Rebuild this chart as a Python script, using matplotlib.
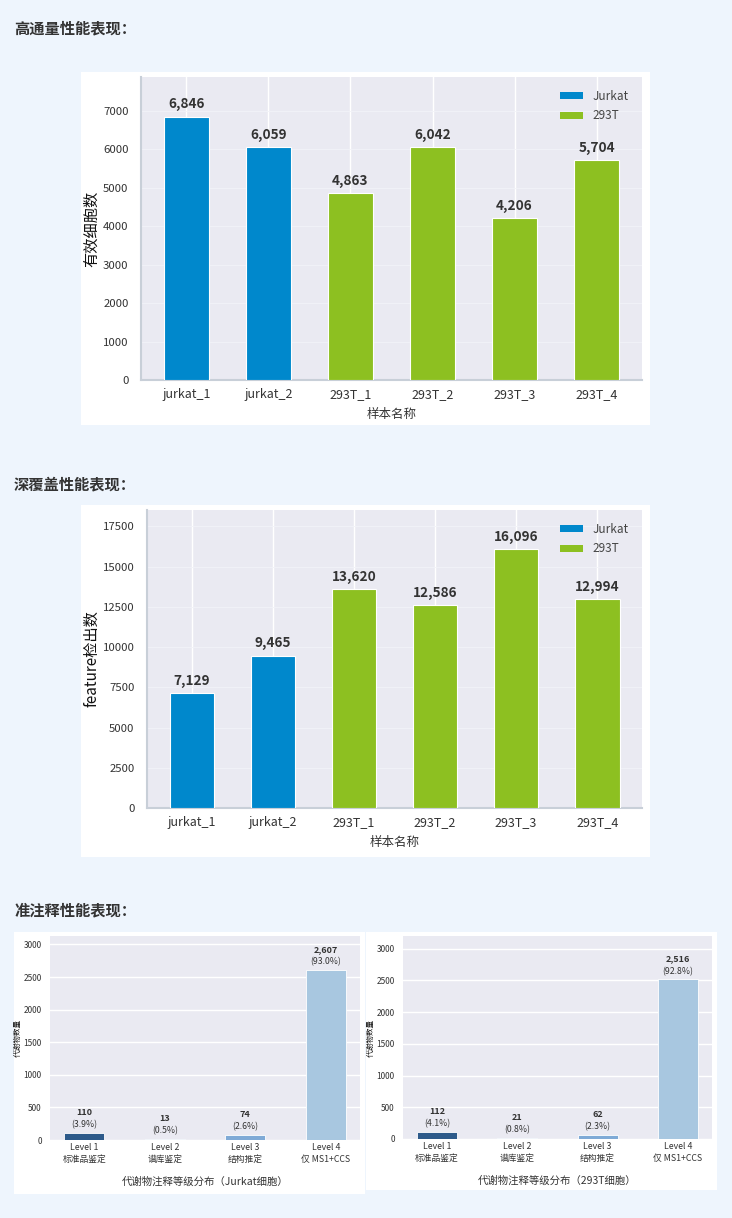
import matplotlib.pyplot as plt
from matplotlib.patches import Rectangle, Patch

plt.rcParams['font.family'] = ['Noto Sans CJK SC', 'DejaVu Sans']

# data
samples = ['jurkat_1', 'jurkat_2', '293T_1', '293T_2', '293T_3', '293T_4']
groups = ['Jurkat', 'Jurkat', '293T', '293T', '293T', '293T']
cell_counts = [6846, 6059, 4863, 6042, 4206, 5704]
feature_counts = [7129, 9465, 13620, 12586, 16096, 12994]

levels = ['Level 1\n标准品鉴定', 'Level 2\n谱库鉴定', 'Level 3\n结构推定', 'Level 4\n仅 MS1+CCS']
jurkat_levels = [110, 13, 74, 2607]
jurkat_pct = [3.9, 0.5, 2.6, 93.0]
t293_levels = [112, 21, 62, 2516]
t293_pct = [4.1, 0.8, 2.3, 92.8]

GROUP_COLORS = {'Jurkat': '#0088CC', '293T': '#8DC021'}
LEVEL_COLORS = ['#2D5A8A', '#6A9BD0', '#7FAAD6', '#A8C7E0']
PAGE_BG = '#EEF5FD'
AX_BG = '#EAEAF2'
TXT = '#333333'

W, H = 732, 1218
fig = plt.figure(figsize=(W / 100, H / 100), dpi=100)
fig.patch.set_facecolor(PAGE_BG)


def box(x0, y0, x1, y1):
    # pixel box (top-left origin) -> figure fraction rect
    return [x0 / W, 1 - y1 / H, (x1 - x0) / W, (y1 - y0) / H]


def panel(x0, y0, x1, y1):
    r = box(x0, y0, x1, y1)
    fig.patches.append(Rectangle((r[0], r[1]), r[2], r[3], transform=fig.transFigure,
                                 facecolor='white', edgecolor='none', zorder=-5))


def heading(y, text):
    fig.text(14 / W, 1 - y / H, text, fontsize=11, fontweight='bold', color=TXT, va='center', ha='left')


def sample_chart(rect, values, ylabel, step):
    ax = fig.add_axes(rect)
    ax.set_facecolor(AX_BG)
    x = range(len(samples))
    colors = [GROUP_COLORS[g] for g in groups]
    ax.bar(x, values, width=0.55, color=colors, edgecolor='white', linewidth=0.8, zorder=3)
    for i, v in enumerate(values):
        ax.text(i, v + max(values) * 0.02, f'{v:,}', ha='center', va='bottom',
                fontsize=9.8, fontweight='bold', color=TXT, zorder=4)
    ax.set_ylim(0, max(values) * 1.15)
    ax.set_yticks(range(0, int(max(values) * 1.15), step))
    ax.set_xticks(list(x))
    ax.set_xticklabels(samples, fontsize=9, color=TXT)
    ax.tick_params(axis='y', labelsize=8.2, labelcolor=TXT, length=0, pad=9)
    ax.tick_params(axis='x', length=0, pad=6)
    ax.set_xlabel('样本名称', fontsize=9, color=TXT, labelpad=5)
    ax.set_ylabel(ylabel, fontsize=11, color='#111111', labelpad=2)
    ax.grid(axis='x', color='white', linewidth=1.0, zorder=1)
    ax.grid(axis='y', color='#F2F3F8', linewidth=0.6, zorder=1)
    ax.set_axisbelow(True)
    for s in ['top', 'right']:
        ax.spines[s].set_visible(False)
    for s in ['left', 'bottom']:
        ax.spines[s].set_color('#C8CFD8')
        ax.spines[s].set_linewidth(1.5)
    handles = [Patch(facecolor=GROUP_COLORS[g], label=g) for g in ['Jurkat', '293T']]
    ax.legend(handles=handles, loc='upper right', frameon=False, fontsize=8.5,
              labelcolor='#444444', handlelength=2.0, handleheight=0.55, borderaxespad=0.7,
              labelspacing=0.55)
    return ax


def level_chart(rect, values, pct, xlabel, ymax):
    ax = fig.add_axes(rect)
    ax.set_facecolor(AX_BG)
    x = range(len(levels))
    ax.bar(x, values, width=0.5, color=LEVEL_COLORS, edgecolor='white', linewidth=0.6, zorder=3)
    for i, (v, p) in enumerate(zip(values, pct)):
        ax.annotate(f'({p:.1f}%)', (i, v), xytext=(0, 2.5), textcoords='offset points',
                    ha='center', va='bottom', fontsize=6.3, color=TXT, zorder=4)
        ax.annotate(f'{v:,}', (i, v), xytext=(0, 11.5), textcoords='offset points',
                    ha='center', va='bottom', fontsize=6.5, fontweight='bold', color=TXT, zorder=4)
    ax.set_ylim(0, ymax)
    ax.set_yticks(range(0, 3001, 500))
    ax.set_xticks(list(x))
    ax.set_xticklabels(levels, fontsize=6.3, color=TXT, linespacing=1.5)
    ax.tick_params(axis='y', labelsize=6, labelcolor=TXT, length=0, pad=6)
    ax.tick_params(axis='x', length=0, pad=2)
    ax.set_xlabel(xlabel, fontsize=7.5, color=TXT, labelpad=9)
    ax.set_ylabel('代谢物数量', fontsize=5.5, color='#111111', labelpad=1)
    ax.grid(axis='y', color='white', linewidth=1.0, zorder=1)
    ax.grid(axis='x', visible=False)
    ax.set_axisbelow(True)
    for s in ax.spines.values():
        s.set_visible(False)
    return ax


heading(28, '高通量性能表现：')
panel(81, 72, 650, 425)
sample_chart(box(141, 77, 642, 380), cell_counts, '有效细胞数', 1000)

heading(484, '深覆盖性能表现：')
panel(81, 505, 650, 857)
sample_chart(box(147, 510, 642, 808), feature_counts, 'feature检出数', 2500)

heading(910, '准注释性能表现：')
panel(14, 932, 365, 1194)
level_chart(box(50, 936, 360, 1140), jurkat_levels, jurkat_pct, '代谢物注释等级分布（Jurkat细胞）', 3130)
panel(366, 932, 717, 1190)
level_chart(box(403, 936, 712, 1139), t293_levels, t293_pct, '代谢物注释等级分布（293T细胞）', 3200)

fig.savefig('out.png', dpi=100, facecolor=fig.get_facecolor())
